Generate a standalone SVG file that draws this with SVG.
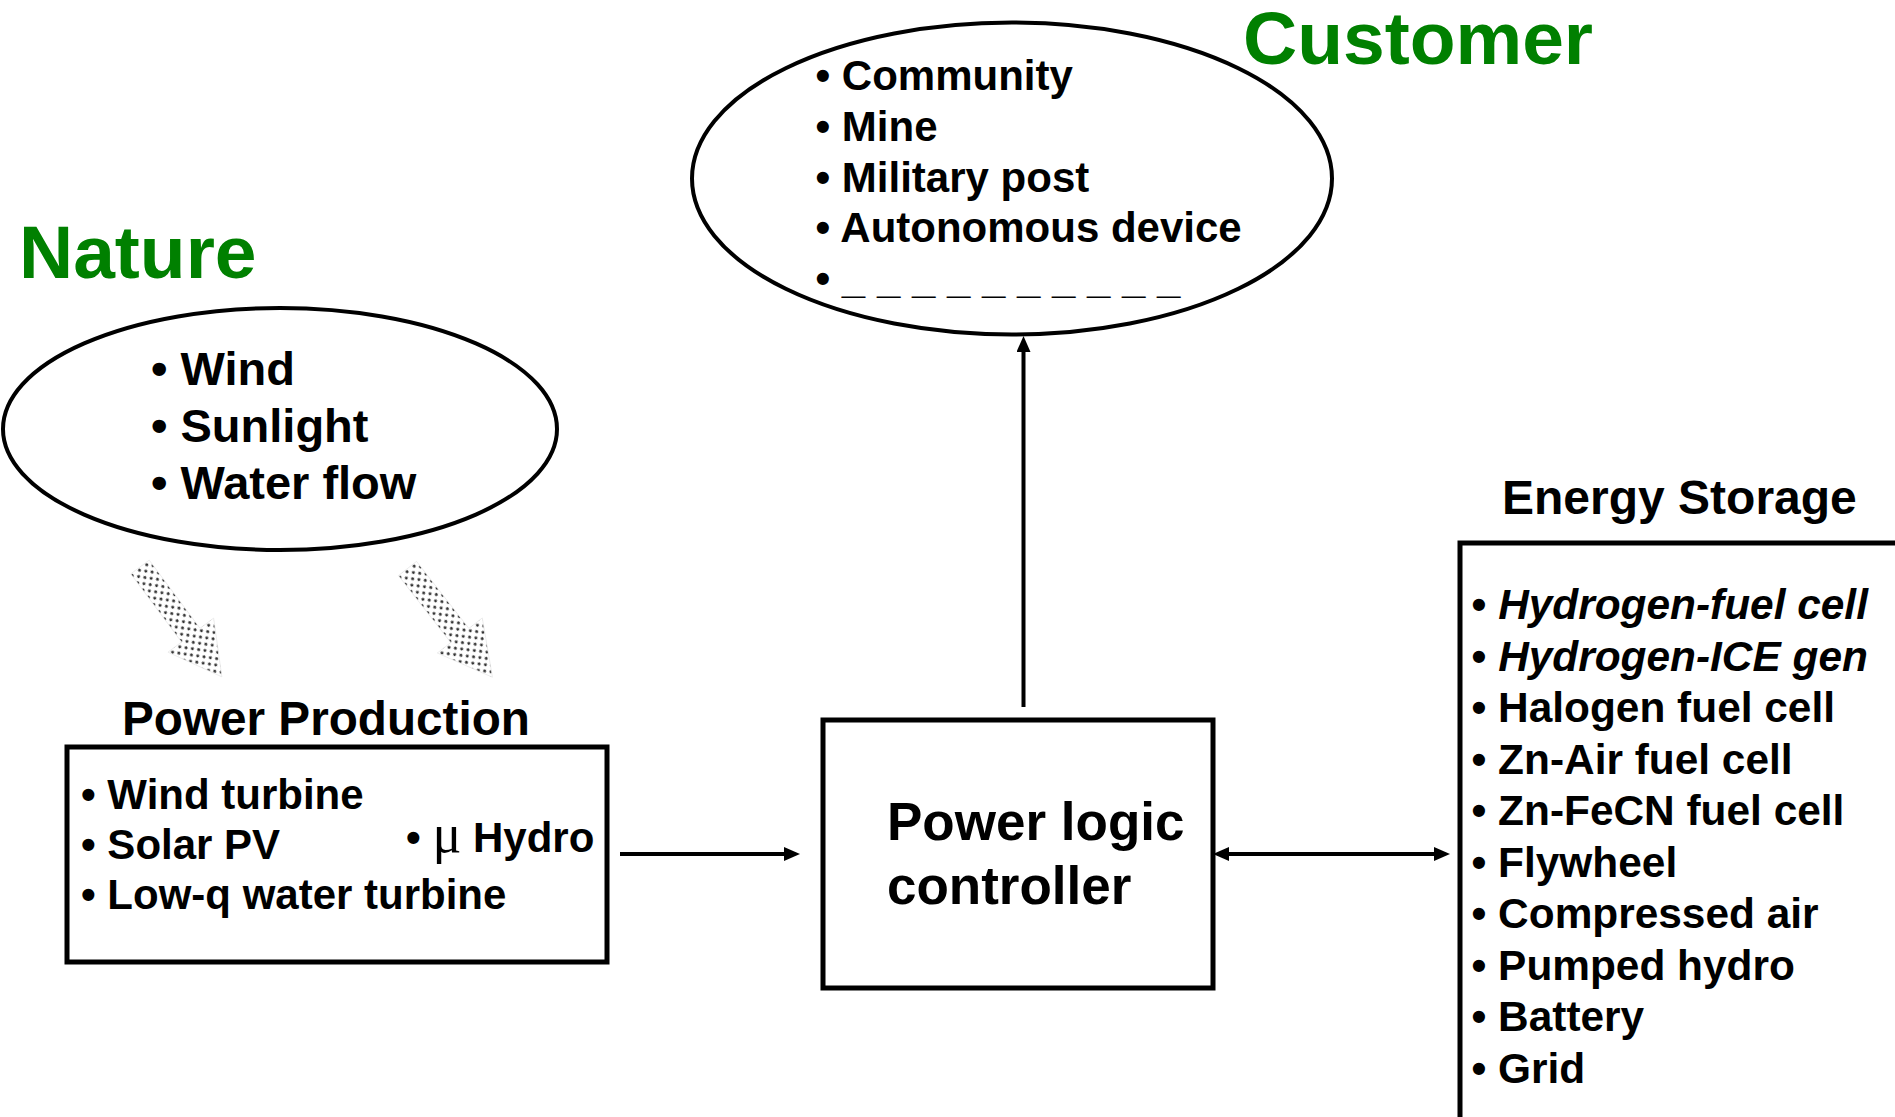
<svg xmlns="http://www.w3.org/2000/svg" width="1895" height="1117" viewBox="0 0 1895 1117">
<style>
  .t { font-family: "Liberation Sans", Arial, sans-serif; font-weight: bold; fill: #000; }
  .green { fill: #008000; font-size: 75px; }
  .item { font-size: 42px; }
  .es { font-size: 42.4px; }
  .nat { font-size: 47px; }
  .head { font-size: 48px; }
  .ctrl { font-size: 53px; }
  .it { font-style: italic; }
  .shape { fill: #fff; stroke: #000; stroke-width: 4; }
  .box { fill: #fff; stroke: #000; stroke-width: 5; }
  .conn { stroke: #000; stroke-width: 4; fill: none; }
  .mu { font-family: "Liberation Serif", "Times New Roman", serif; font-weight: normal; font-size: 54px; }
</style>
<defs>
  <marker id="ah" markerWidth="16" markerHeight="14" refX="2" refY="7" orient="auto-start-reverse" markerUnits="userSpaceOnUse">
    <path d="M0,0 L16,7 L0,14 z" fill="#000"/>
  </marker>
  <pattern id="dots" width="9" height="9" patternUnits="userSpaceOnUse">
    <circle cx="2.25" cy="2.25" r="1.5" fill="#333"/>
    <circle cx="6.75" cy="6.75" r="1.5" fill="#333"/>
  </pattern>
</defs>
<rect width="1895" height="1117" fill="#fff"/>

<g id="nature">
  <text class="t green" x="19" y="278">Nature</text>
  <ellipse class="shape" cx="280" cy="429" rx="277" ry="121"/>
  <text class="t nat" x="151" y="385">• Wind</text>
  <text class="t nat" x="151" y="442">• Sunlight</text>
  <text class="t nat" x="151" y="499">• Water flow</text>
</g>

<g id="customer">
  <text class="t green" x="1243" y="64">Customer</text>
  <ellipse class="shape" cx="1012" cy="178.5" rx="320" ry="156"/>
  <text class="t item" x="815.5" y="90">• Community</text>
  <text class="t item" x="815.5" y="141">• Mine</text>
  <text class="t item" x="815.5" y="192">• Military post</text>
  <text class="t item" x="815.5" y="242">• Autonomous device</text>
  <text class="t item" x="815.5" y="293">• _ _ _ _ _ _ _ _ _ _</text>
</g>

<g id="nature-flow">
  <g transform="translate(140,567) rotate(53.3)">
    <polygon points="0,-11.5 85,-11.5 85,-28.5 137,0 85,28.5 85,11.5 0,11.5" fill="url(#dots)" stroke="#e4e4e4" stroke-width="0.6"/>
  </g>
  <g transform="translate(407.5,568.5) rotate(52)">
    <polygon points="0,-11.5 85,-11.5 85,-28.5 138,0 85,28.5 85,11.5 0,11.5" fill="url(#dots)" stroke="#e4e4e4" stroke-width="0.6"/>
  </g>
</g>

<g id="power-production">
  <text class="t head" x="122" y="735" textLength="408" lengthAdjust="spacingAndGlyphs">Power Production</text>
  <rect class="box" x="67" y="747" width="540" height="215"/>
  <text class="t item" x="81" y="809">• Wind turbine</text>
  <text class="t item" x="81" y="859">• Solar PV</text>
  <text class="t item" x="81" y="909">• Low-q water turbine</text>
  <text class="t item" x="406" y="852">• <tspan class="mu">μ</tspan> Hydro</text>
</g>

<g id="controller">
  <rect class="box" x="823" y="720" width="390" height="268"/>
  <text class="t ctrl" x="887" y="840">Power logic</text>
  <text class="t ctrl" x="887" y="904">controller</text>
</g>

<g id="energy-storage">
  <text class="t head" x="1502" y="514">Energy Storage</text>
  <rect class="box" x="1460" y="543" width="500" height="700"/>
  <text class="t es" x="1471.5" y="619">• <tspan class="it">Hydrogen-fuel cell</tspan></text>
  <text class="t es" x="1471.5" y="670.5">• <tspan class="it">Hydrogen-ICE gen</tspan></text>
  <text class="t es" x="1471.5" y="722">• Halogen fuel cell</text>
  <text class="t es" x="1471.5" y="773.5">• Zn-Air fuel cell</text>
  <text class="t es" x="1471.5" y="825">• Zn-FeCN fuel cell</text>
  <text class="t es" x="1471.5" y="876.5">• Flywheel</text>
  <text class="t es" x="1471.5" y="928">• Compressed air</text>
  <text class="t es" x="1471.5" y="979.5">• Pumped hydro</text>
  <text class="t es" x="1471.5" y="1031">• Battery</text>
  <text class="t es" x="1471.5" y="1082.5">• Grid</text>
</g>

<g id="connectors">
  <line class="conn" x1="620" y1="854" x2="786" y2="854" marker-end="url(#ah)"/>
  <line class="conn" x1="1227" y1="854" x2="1436" y2="854" marker-start="url(#ah)" marker-end="url(#ah)"/>
  <line class="conn" x1="1023.5" y1="707" x2="1023.5" y2="350" marker-end="url(#ah)"/>
</g>
</svg>
